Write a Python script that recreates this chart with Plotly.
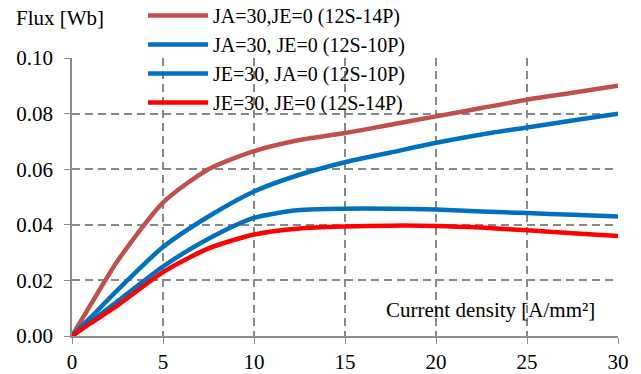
import plotly.graph_objects as go

# Data
x_vals = [0, 1, 2.5, 5, 7.5, 10, 12.5, 15, 17.5, 20, 22.5, 25, 27.5, 30]

flux_ja_14p = [0, 0.011, 0.027, 0.048, 0.060, 0.0665, 0.0705, 0.073, 0.076, 0.079, 0.082, 0.085, 0.0875, 0.090]
flux_ja_10p = [0, 0.0065, 0.0165, 0.032, 0.043, 0.052, 0.058, 0.0625, 0.066, 0.0695, 0.0725, 0.075, 0.0775, 0.080]
flux_je_10p = [0, 0.005, 0.0125, 0.025, 0.035, 0.0425, 0.0453, 0.0458, 0.0458, 0.0455, 0.0448, 0.0442, 0.0436, 0.043]
flux_je_14p = [0, 0.0045, 0.011, 0.023, 0.0315, 0.0365, 0.0387, 0.0394, 0.0397, 0.0396, 0.039, 0.038, 0.037, 0.036]

names = [
    "JA=30,JE=0 (12S-14P)",
    "JA=30, JE=0 (12S-10P)",
    "JE=30, JA=0 (12S-10P)",
    "JE=30, JE=0 (12S-14P)",
]
colors = ["#C0504D", "#0070C0", "#0070C0", "#FF0000"]
series = [flux_ja_14p, flux_ja_10p, flux_je_10p, flux_je_14p]

x_ticks = [0, 5, 10, 15, 20, 25, 30]
y_ticks = [0.00, 0.02, 0.04, 0.06, 0.08, 0.10]

FONT = "Liberation Serif, Times New Roman, serif"
FS = 21

fig = go.Figure()
for name, col, ys in zip(names, colors, series):
    fig.add_trace(go.Scatter(
        x=x_vals, y=ys, mode="lines", name=name,
        line=dict(color=col, width=4.5, shape="spline", smoothing=0.7),
    ))

fig.update_layout(
    width=641, height=374,
    margin=dict(l=72, r=23, t=58, b=38, autoexpand=False),
    paper_bgcolor="white", plot_bgcolor="white",
    font=dict(family=FONT, size=FS, color="black"),
    showlegend=True,
    legend=dict(
        x=0.13, y=0.9964, xanchor="left", yanchor="middle",
        bgcolor="rgba(0,0,0,0)", font=dict(family=FONT, size=20, color="black"),
        itemwidth=60, tracegroupgap=0,
    ),
    xaxis=dict(
        range=[0, 30], tickvals=x_ticks, ticktext=[str(v) for v in x_ticks],
        showgrid=True, gridcolor="#888888", griddash="8px,5px", gridwidth=1.5,
        showline=True, linecolor="#8c8c8c", linewidth=1.5,
        ticks="outside", ticklen=6, tickcolor="#8c8c8c",
        ticklabelstandoff=0,
        zeroline=False, tickfont=dict(family=FONT, size=FS),
    ),
    yaxis=dict(
        range=[0, 0.10], tickvals=y_ticks, ticktext=[f"{v:.2f}" for v in y_ticks],
        showgrid=True, gridcolor="#888888", griddash="8px,5px", gridwidth=1.5,
        showline=True, linecolor="#8c8c8c", linewidth=1.5,
        ticks="outside", ticklen=6, tickcolor="#8c8c8c",
        ticklabelstandoff=7,
        zeroline=False, tickfont=dict(family=FONT, size=FS),
    ),
    annotations=[
        dict(text="Flux [Wb]", xref="paper", yref="paper", x=-0.106, y=1.144,
             xanchor="left", yanchor="middle", showarrow=False,
             font=dict(family=FONT, size=FS)),
        dict(text="Current density [A/mm²]", xref="paper", yref="paper", x=0.9615, y=0.094,
             xanchor="right", yanchor="middle", showarrow=False,
             font=dict(family=FONT, size=FS)),
    ],
)

fig.write_html("out.html")
